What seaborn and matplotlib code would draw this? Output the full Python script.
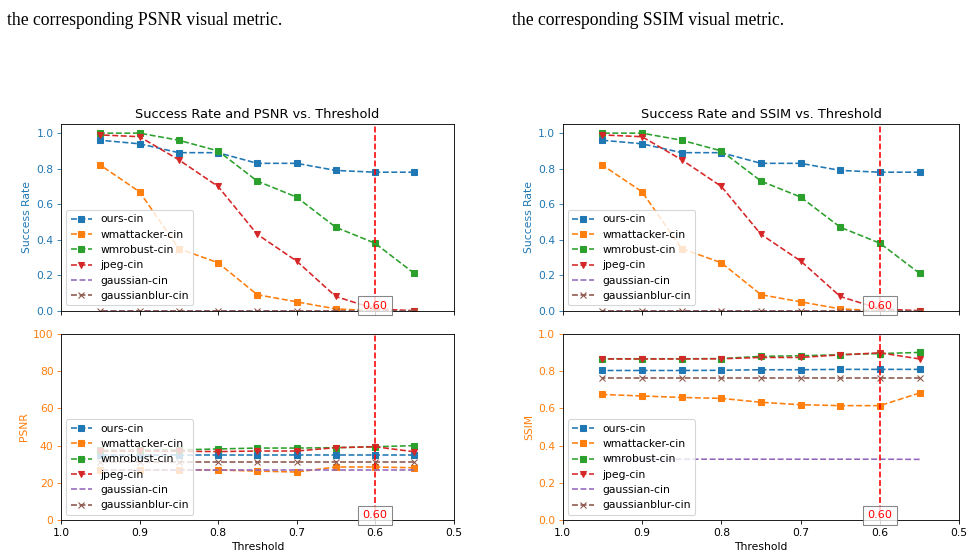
import numpy as np
import pandas as pd
import matplotlib
matplotlib.use("Agg")
import matplotlib.pyplot as plt
import seaborn as sns

# thresholds on the x axis
thresholds = [0.95, 0.90, 0.85, 0.80, 0.75, 0.70, 0.65, 0.60, 0.55]
methods = ["ours-cin", "wmattacker-cin", "wmrobust-cin", "jpeg-cin",
           "gaussian-cin", "gaussianblur-cin"]

# success rate (same for both figures)
success_ours = [0.96, 0.94, 0.89, 0.89, 0.83, 0.83, 0.79, 0.78, 0.78]
success_wmattacker = [0.82, 0.67, 0.35, 0.27, 0.09, 0.05, 0.01, 0.00, 0.00]
success_wmrobust = [1.00, 1.00, 0.96, 0.90, 0.73, 0.64, 0.47, 0.38, 0.21]
success_jpeg = [0.99, 0.98, 0.85, 0.70, 0.43, 0.28, 0.08, 0.01, 0.00]
success_gaussian = [0.0, 0.0, 0.0, 0.0, 0.0, 0.0, 0.0, 0.0, 0.0]
success_gaussianblur = [0.0, 0.0, 0.0, 0.0, 0.0, 0.0, 0.0, 0.0, 0.0]

# PSNR
psnr_ours = [34.8, 34.8, 34.8, 34.8, 34.8, 34.8, 34.8, 34.8, 34.8]
psnr_wmattacker = [27.0, 27.0, 27.0, 26.9, 26.3, 25.8, 28.5, 28.5, 28.1]
psnr_wmrobust = [37.5, 37.6, 37.7, 38.2, 38.7, 38.7, 38.9, 39.4, 40.0]
psnr_jpeg = [37.0, 37.0, 37.0, 36.8, 37.1, 37.1, 38.9, 39.4, 36.7]
psnr_gaussian = [26.7, 26.7, 26.7, 26.7, 26.7, 26.7, 26.7, 26.7, 26.7]
psnr_gaussianblur = [31.4, 31.4, 31.4, 31.4, 31.4, 31.4, 31.4, 31.4, 31.4]

# SSIM
ssim_ours = [0.804, 0.804, 0.804, 0.805, 0.808, 0.808, 0.810, 0.810, 0.810]
ssim_wmattacker = [0.675, 0.667, 0.659, 0.654, 0.633, 0.620, 0.615, 0.615, 0.683]
ssim_wmrobust = [0.867, 0.867, 0.867, 0.868, 0.880, 0.883, 0.889, 0.895, 0.901]
ssim_jpeg = [0.866, 0.866, 0.866, 0.867, 0.874, 0.874, 0.888, 0.899, 0.866]
ssim_gaussian = [0.327, 0.327, 0.327, 0.327, 0.327, 0.327, 0.327, 0.327, 0.326]
ssim_gaussianblur = [0.763, 0.763, 0.763, 0.763, 0.763, 0.763, 0.763, 0.763, 0.763]

success = [success_ours, success_wmattacker, success_wmrobust, success_jpeg,
           success_gaussian, success_gaussianblur]
psnr = [psnr_ours, psnr_wmattacker, psnr_wmrobust, psnr_jpeg,
        psnr_gaussian, psnr_gaussianblur]
ssim = [ssim_ours, ssim_wmattacker, ssim_wmrobust, ssim_jpeg,
        ssim_gaussian, ssim_gaussianblur]

colors = sns.color_palette("tab10", 6)
markers = ["s", "s", "s", "v", None, "x"]
best_threshold = 0.60

DPI = 77


def draw_series(ax, series):
    for name, vals, c, m in zip(methods, series, colors, markers):
        df = pd.DataFrame({"threshold": thresholds, "value": vals})
        sns.lineplot(data=df, x="threshold", y="value", ax=ax, label=name,
                     color=c, marker=m, linestyle="--", markersize=6,
                     markeredgecolor=c, markeredgewidth=1.0)
    ax.axvline(best_threshold, color="red", linestyle="--", linewidth=1.5)
    ax.text(best_threshold, ax.get_ylim()[0], f"{best_threshold:.2f}",
            color="red", ha="center", va="bottom", fontsize=10.5,
            bbox=dict(boxstyle="square,pad=0.4", facecolor="white",
                      edgecolor="dimgray", alpha=0.8))
    ax.legend(loc="lower left")


def make_panel(fig, left, width, metric, values, ymax):
    ax_top = fig.add_axes([left, 0.4422, width, 0.3347])
    ax_bot = fig.add_axes([left, 0.0664, width, 0.3339], sharex=ax_top)

    ax_top.set_xlim(1.0, 0.5)
    ax_top.set_ylim(0, 1.05)
    draw_series(ax_top, success)
    ax_top.set_title(f"Success Rate and {metric} vs. Threshold")
    ax_top.set_ylabel("Success Rate", color="tab:blue")
    ax_top.tick_params(axis="y", colors="tab:blue")
    ax_top.tick_params(axis="x", labelbottom=False)
    ax_top.set_xlabel("")

    ax_bot.set_ylim(0, ymax)
    draw_series(ax_bot, values)
    ax_bot.set_ylabel(metric, color="tab:orange")
    ax_bot.tick_params(axis="y", colors="tab:orange")
    ax_bot.set_xlabel("Threshold")
    ax_bot.set_xticks([1.0, 0.9, 0.8, 0.7, 0.6, 0.5])
    ax_bot.set_xlim(1.0, 0.5)


fig = plt.figure(figsize=(973 / DPI, 557 / DPI), dpi=DPI)

make_panel(fig, 0.0627, 0.4034, "PSNR", psnr, 100)
make_panel(fig, 0.5783, 0.4076, "SSIM", ssim, 1.0)

# caption fragments from the surrounding document
fig.text(0.007, 0.955, "the corresponding PSNR visual metric.",
         family="Liberation Serif", fontsize=16.5, va="baseline")
fig.text(0.526, 0.955, "the corresponding SSIM visual metric.",
         family="Liberation Serif", fontsize=16.5, va="baseline")

fig.savefig("out.png", dpi=DPI)
